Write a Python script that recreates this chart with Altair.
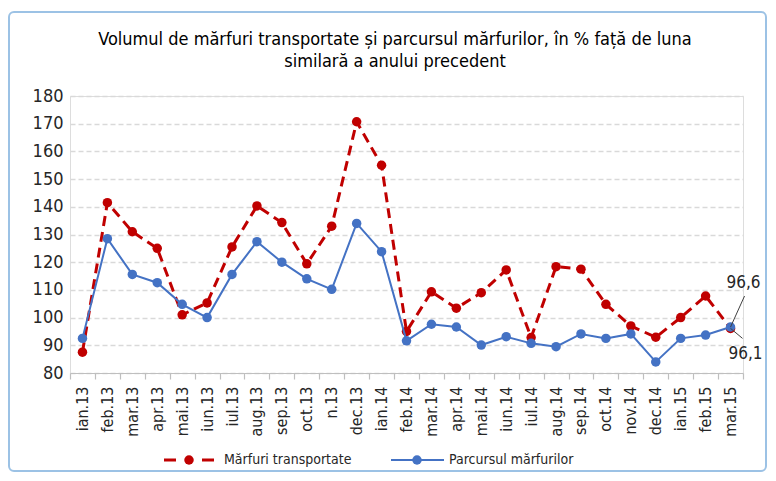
import altair as alt
import pandas as pd

luni = ["ian.13","feb.13","mar.13","apr.13","mai.13","iun.13","iul.13","aug.13","sep.13","oct.13","n.13","dec.13",
        "ian.14","feb.14","mar.14","apr.14","mai.14","iun.14","iul.14","aug.14","sep.14","oct.14","nov.14","dec.14",
        "ian.15","feb.15","mar.15"]
marfuri = [87.5,141.5,131.0,125.0,101.0,105.3,125.5,140.3,134.3,119.4,133.0,170.7,155.0,
           95.0,109.3,103.4,109.0,117.2,92.8,118.4,117.5,104.8,97.0,92.9,100.0,107.8,96.1]
parcurs = [92.5,128.5,115.6,112.6,104.8,100.0,115.6,127.4,120.0,114.0,110.2,134.0,123.8,
           91.6,97.6,96.6,90.1,93.1,90.7,89.5,94.1,92.5,94.1,84.0,92.5,93.7,96.6]
serii = ["Mărfuri transportate", "Parcursul mărfurilor"]
culori = ["#c00000", "#4472c4"]
y_ticks = list(range(80, 181, 10))
titlu = ["Volumul de mărfuri transportate și parcursul mărfurilor,  în % față de luna",
         "similară a anului precedent"]

FONT = "Liberation Sans Narrow, DejaVu Sans Condensed, sans-serif"

df_m = pd.DataFrame({"luna": luni, "v": marfuri})
df_p = pd.DataFrame({"luna": luni, "v": parcurs})
df_last_p = df_p.tail(1).assign(t=lambda d: d["v"].map(lambda x: f"{x:.1f}".replace(".", ",")))
df_last_m = df_m.tail(1).assign(t=lambda d: d["v"].map(lambda x: f"{x:.1f}".replace(".", ",")))

xenc = alt.X("luna:N", sort=luni, bandPosition=0.5,
             scale=alt.Scale(type="band", paddingInner=0, paddingOuter=0),
             axis=alt.Axis(title=None, tickBand="extent", labelAngle=-90, labelAlign="right",
                           labelBaseline="middle", labelFontSize=16, labelFont=FONT, labelColor="#262626",
                           labelPadding=7, tickSize=6, tickColor="#bfbfbf", domainColor="#bfbfbf",
                           domainWidth=1.2, tickWidth=1.2, grid=False, labelOverlap=False))
yenc = alt.Y("v:Q", scale=alt.Scale(domain=[80, 180], nice=False, zero=False),
             axis=alt.Axis(title=None, values=y_ticks, tickCount=11, grid=True, gridDash=[5, 3],
                           gridColor="#d9d9d9", gridWidth=1.5, domain=False, ticks=False, labelFontSize=18,
                           labelFont=FONT, labelColor="#262626", labelPadding=7, labelOverlap=False))
y2enc = alt.Y2("v")

red_line = alt.Chart(df_m).mark_line(color=culori[0], strokeWidth=3, strokeDash=[10, 6]).encode(x=xenc, y=yenc)
red_pts = alt.Chart(df_m).mark_circle(color=culori[0], size=90, opacity=1).encode(x=xenc, y=yenc)
blue_line = alt.Chart(df_p).mark_line(color=culori[1], strokeWidth=2).encode(x=xenc, y=yenc)
blue_pts = alt.Chart(df_p).mark_circle(color=culori[1], size=90, opacity=1).encode(x=xenc, y=yenc)

lead_p = alt.Chart(df_last_p).mark_rule(color="#404040", strokeWidth=1, x2Offset=14, y2Offset=-31).encode(
    x=xenc, x2=alt.X2("luna"), y=yenc, y2=y2enc)
lead_m = alt.Chart(df_last_m).mark_rule(color="#404040", strokeWidth=1, x2Offset=12, y2Offset=10).encode(
    x=xenc, x2=alt.X2("luna"), y=yenc, y2=y2enc)
lab_p = alt.Chart(df_last_p).mark_text(font=FONT, fontSize=17, color="#262626", dx=13, dy=-44).encode(
    x=xenc, y=yenc, text="t:N")
lab_m = alt.Chart(df_last_m).mark_text(font=FONT, fontSize=17, color="#262626", dx=15, dy=26).encode(
    x=xenc, y=yenc, text="t:N")

one = pd.DataFrame({"a": [0]})
border = alt.Chart(one).mark_rect(fill=None, stroke="#9cc2e5", strokeWidth=2, cornerRadius=5).encode(
    x=alt.value(-61), x2=alt.value(696), y=alt.value(-84), y2=alt.value(375))

title1 = alt.Chart(pd.DataFrame({"t": [titlu[0]]})).mark_text(
    font=FONT, fontSize=18, color="#000000", align="center", baseline="middle").encode(
    x=alt.value(325), y=alt.value(-56), text="t:N")
title2 = alt.Chart(pd.DataFrame({"t": [titlu[1]]})).mark_text(
    font=FONT, fontSize=18, color="#000000", align="center", baseline="middle").encode(
    x=alt.value(325), y=alt.value(-34), text="t:N")

leg_y = 364
leg_red_line = alt.Chart(one).mark_rule(color=culori[0], strokeWidth=3, strokeDash=[12, 26]).encode(
    x=alt.value(94), x2=alt.value(144), y=alt.value(leg_y))
leg_red_pt = alt.Chart(one).mark_circle(color=culori[0], size=90, opacity=1).encode(
    x=alt.value(119), y=alt.value(leg_y))
leg_blue_line = alt.Chart(one).mark_rule(color=culori[1], strokeWidth=2).encode(
    x=alt.value(321), x2=alt.value(374), y=alt.value(leg_y))
leg_blue_pt = alt.Chart(one).mark_circle(color=culori[1], size=90, opacity=1).encode(
    x=alt.value(347), y=alt.value(leg_y))
leg_txt = alt.Chart(pd.DataFrame({"t": serii, "px": [154, 379]})).mark_text(
    font=FONT, fontSize=14, color="#262626", align="left", baseline="middle").encode(
    x=alt.X("px:Q", scale=None), y=alt.value(leg_y), text="t:N")

chart = alt.layer(
    border, title1, title2, red_line, red_pts, blue_line, blue_pts, lead_p, lead_m, lab_p, lab_m,
    leg_red_line, leg_red_pt, leg_blue_line, leg_blue_pt, leg_txt
).properties(
    width=673, height=277,
    autosize=alt.AutoSizeParams(type="none"),
    padding={"left": 62, "top": 88, "right": 25, "bottom": 100},
).configure_view(stroke=None).configure(background="white")

chart.save("out.html", embed_options={"renderer": "svg", "actions": False})
